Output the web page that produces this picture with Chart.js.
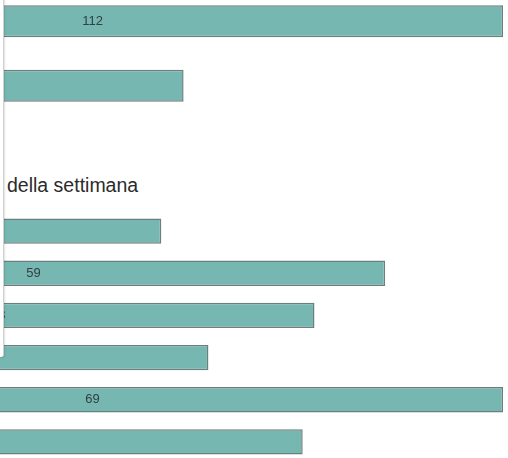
<!DOCTYPE html>
<html>
<head>
<meta charset="utf-8">
<script src="https://cdn.jsdelivr.net/npm/chart.js@4/dist/chart.umd.min.js"></script>
<style>
    html, body { margin:0; padding:0; background:#fff; overflow:hidden; }
    #wrap { position:relative; width:508px; height:458px; overflow:hidden; }
    #graficoTop { position:absolute; left:-310px; top:-11px; }
    #graficoGiorni { position:absolute; left:-310px; top:210px; }
    #titoloGiorni { position:absolute; left:7px; top:174px; font-family:"Liberation Sans", Arial, sans-serif; font-size:19.5px; color:#2b2b2b; white-space:nowrap; }
    #pannello { position:absolute; left:0; top:-4px; width:3px; height:361px; background:#fff; border-right:1px solid #d0d0d0; border-bottom-right-radius:3px; box-shadow:1px 1px 2px rgba(0,0,0,0.12); }
</style>
</head>
<body>
<div id="wrap">
    <canvas id="graficoTop" width="813" height="129"></canvas>
    <div id="titoloGiorni">della settimana</div>
    <canvas id="graficoGiorni" width="813" height="253"></canvas>
    <div id="pannello"></div>
</div>
<script>
// dati
let etichetteTop = ['Voce 1', 'Voce 2'];
let valoriTop = [112, 68];

let giorni = ['Lunedì', 'Martedì', 'Mercoledì', 'Giovedì', 'Venerdì', 'Sabato'];
let valoriGiorni = [40, 59, 53, 44, 69, 52];

let coloreBarra = '#77b7b2';
let bordoBarra = '#6b7f7d';

// etichetta col valore al centro di ogni barra (un po' spostata a sinistra come nell'originale)
let etichetteValori = {
    id: 'etichetteValori',
    afterDatasetsDraw: function(chart) {
        let ctx = chart.ctx;
        let meta = chart.getDatasetMeta(0);
        let dati = chart.data.datasets[0].data;
        ctx.save();
        ctx.font = '13px "Liberation Sans", Arial, sans-serif';
        ctx.fillStyle = '#2f4140';
        ctx.textAlign = 'center';
        ctx.textBaseline = 'middle';
        for(i=0; i<meta.data.length; i++){
            let barra = meta.data[i];
            let xZero = chart.scales.x.getPixelForValue(0);
            ctx.fillText(dati[i], (xZero + barra.x) / 2 - 4, barra.y);
        }
        ctx.restore();
    }
};

function creaGrafico(idCanvas, etichette, valori, percBarra){
    let ctx = document.getElementById(idCanvas).getContext('2d');
    return new Chart(ctx, {
        type: 'bar',
        data: {
            labels: etichette,
            datasets: [{
                data: valori,
                backgroundColor: coloreBarra,
                borderColor: bordoBarra,
                borderWidth: 1.5,
                borderSkipped: false,
                barPercentage: percBarra,
                categoryPercentage: 0.8
            }]
        },
        options: {
            indexAxis: 'y',
            responsive: false,
            animation: false,
            devicePixelRatio: 1,
            layout: { padding: 0 },
            plugins: {
                legend: { display: false },
                tooltip: { enabled: false }
            },
            scales: {
                x: { display: false, min: 0, max: Math.max(...valori) },
                y: { display: false }
            }
        },
        plugins: [etichetteValori]
    });
}

creaGrafico('graficoTop', etichetteTop, valoriTop, 0.62);
creaGrafico('graficoGiorni', giorni, valoriGiorni, 0.75);
</script>
</body>
</html>
